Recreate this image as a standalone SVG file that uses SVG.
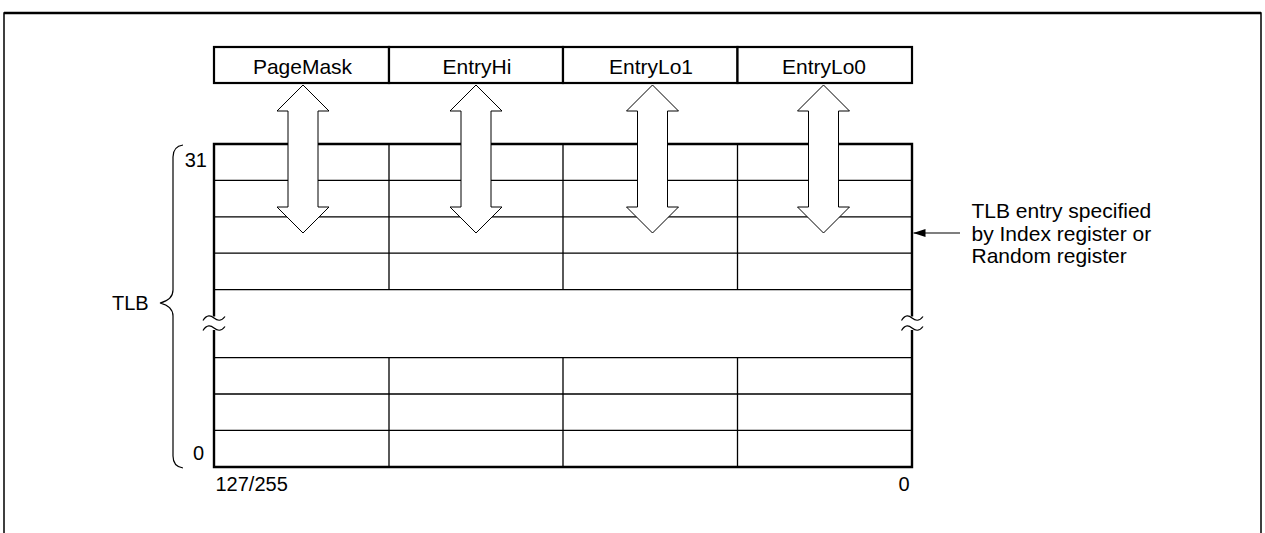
<svg xmlns="http://www.w3.org/2000/svg" width="1265" height="533" viewBox="0 0 1265 533">
<defs>
<style>
.t{font-family:"Liberation Sans",Arial,sans-serif;font-size:20px;fill:#000}
.r{font-size:21px}
.m{text-anchor:middle}
.e{text-anchor:end}
.box{fill:#fff;stroke:#000;stroke-width:2.2}
.thick{stroke:#000;stroke-width:2.4;fill:none}
.thin{stroke:#000;stroke-width:1.3;fill:none}
.dbl{fill:#fff;stroke:#000;stroke-width:1}
.wave{fill:none;stroke:#000;stroke-width:1.2}
</style>
<marker id="ah" viewBox="0 0 12 8" refX="12" refY="4" markerWidth="12" markerHeight="8" markerUnits="userSpaceOnUse" orient="auto">
<path d="M0,0 L12,4 L0,8 Z" fill="#000"/>
</marker>
<path id="dblarrow" d="M0,85 L26,111 L15,111 L15,207 L26,207 L0,233 L-26,207 L-15,207 L-15,111 L-26,111 Z"/>
</defs>
<rect width="1265" height="533" fill="#fff"/>
<g id="frame">
<path d="M4,533 L4,13 L1261,13 L1261,533" fill="none" stroke="#000" stroke-width="1.5"/>
<line x1="4" y1="13" x2="1261" y2="13" stroke="#000" stroke-width="2.5"/>
</g>
<g id="registers">
<g id="reg-pagemask"><rect class="box" x="214" y="47" width="175" height="36"/><text class="t r m" x="302.5" y="73.5">PageMask</text></g>
<g id="reg-entryhi"><rect class="box" x="389" y="47" width="174" height="36"/><text class="t r m" x="477" y="73.5">EntryHi</text></g>
<g id="reg-entrylo1"><rect class="box" x="563" y="47" width="174.5" height="36"/><text class="t r m" x="651" y="73.5">EntryLo1</text></g>
<g id="reg-entrylo0"><rect class="box" x="737.5" y="47" width="174.5" height="36"/><text class="t r m" x="824" y="73.5">EntryLo0</text></g>
</g>
<g id="tlb">
<path class="thin" d="M214,180.4H912M214,216.8H912M214,253.2H912M214,289.6H912M214,357.6H912M214,394H912M214,430.4H912"/>
<path class="thin" d="M389,144V289.6M563,144V289.6M737.5,144V289.6M389,357.6V467M563,357.6V467M737.5,357.6V467"/>
<path class="thick" d="M214,316.5V144H912V316.5M214,330V467H912V330"/>
<path class="wave" d="M203,320.5C207,314 211,315.5 214,318S221,322 225,316.5"/>
<path class="wave" d="M203,330.5C207,324 211,325.5 214,328S221,332 225,326.5"/>
<path class="wave" d="M901.5,320.5C905.5,314 909,315.5 912,318S919,322 923,316.5"/>
<path class="wave" d="M901.5,330.5C905.5,324 909,325.5 912,328S919,332 923,326.5"/>
<text class="t e" x="207" y="167">31</text>
<text class="t e" x="204" y="460">0</text>
<text class="t" x="215.5" y="491">127/255</text>
<text class="t e" x="909.5" y="491">0</text>
</g>
<g id="tlb-brace">
<path d="M183,145C176,146 173,150 173,157V290C173,297 168,301 160,303C168,305 173,309 173,316V456C173,463 176,467 183,468" fill="none" stroke="#000" stroke-width="1.2"/>
<text class="t" x="112" y="310">TLB</text>
</g>
<g id="index-label">
<text class="t r" x="971.5" y="218">TLB entry specified</text>
<text class="t r" x="971.5" y="240.5">by Index register or</text>
<text class="t r" x="971.5" y="263">Random register</text>
</g>
<g id="connectors">
<use href="#dblarrow" class="dbl" transform="translate(303,0)"/>
<use href="#dblarrow" class="dbl" transform="translate(476,0)"/>
<use href="#dblarrow" class="dbl" transform="translate(652.5,0)"/>
<use href="#dblarrow" class="dbl" transform="translate(823.5,0)"/>
<line x1="960" y1="233" x2="913.5" y2="233" stroke="#000" stroke-width="1.2" marker-end="url(#ah)"/>
</g>
</svg>
